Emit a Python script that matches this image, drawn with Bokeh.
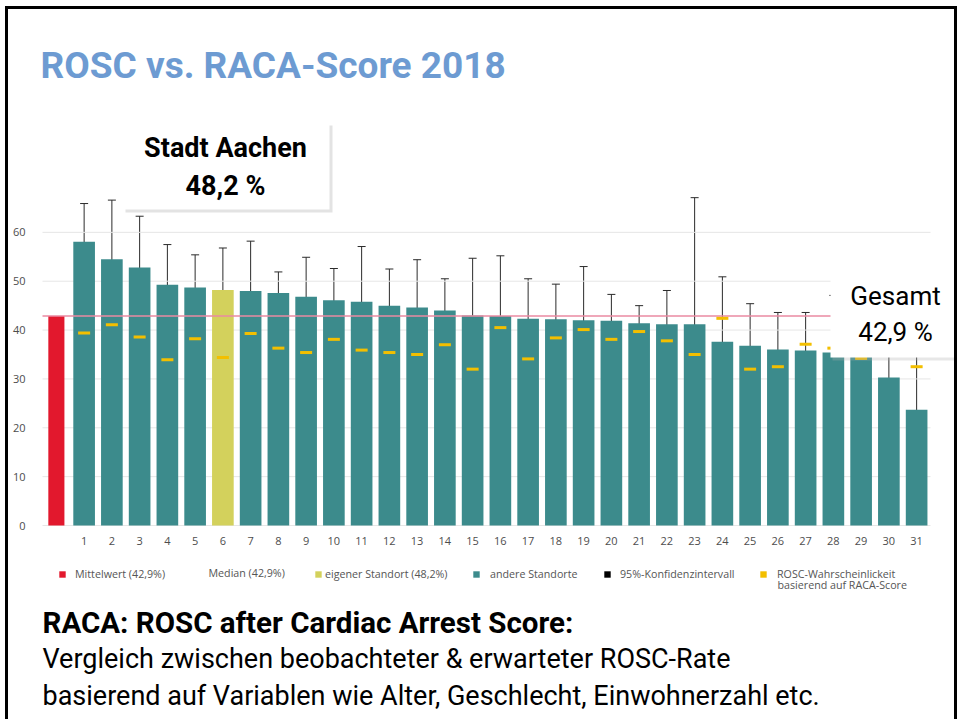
from bokeh.plotting import figure
from bokeh.models import (Range1d, FixedTicker, Whisker, ColumnDataSource, Label, TeeHead,
                          BoxAnnotation, Legend, LegendItem)
from bokeh.embed import file_html
from bokeh.resources import INLINE

# ---------------- data ----------------
sites = ["1", "2", "3", "4", "5", "6", "7", "8", "9", "10", "11", "12", "13", "14", "15", "16",
         "17", "18", "19", "20", "21", "22", "23", "24", "25", "26", "27", "28", "29", "30", "31"]
rosc = [58.1, 54.5, 52.8, 49.3, 48.7, 48.2, 48.0, 47.6, 46.8, 46.1, 45.8, 45.0, 44.6, 44.0, 43.0, 42.9,
        42.3, 42.2, 42.0, 41.9, 41.4, 41.2, 41.2, 37.6, 36.8, 36.0, 35.8, 35.4, 35.2, 30.3, 23.7]
ci_low = [50.1, 41.8, 42.1, 41.2, 42.1, 39.7, 38.1, 43.3, 38.6, 39.7, 34.9, 37.9, 35.0, 37.4, 31.8, 31.0,
          34.0, 35.2, 31.6, 36.7, 37.8, 34.6, 18.4, 25.6, 29.0, 29.0, 28.4, 25.0, 25.6, 20.8, 11.3]
ci_high = [65.9, 66.6, 63.3, 57.5, 55.4, 56.8, 58.2, 51.9, 54.9, 52.6, 57.1, 52.5, 54.4, 50.5, 54.7, 55.2,
           50.5, 49.4, 53.0, 47.3, 45.0, 48.1, 67.1, 50.9, 45.4, 43.6, 43.6, 47.1, 45.3, 40.5, 37.0]
expected = [39.4, 41.1, 38.6, 33.9, 38.2, 34.4, 39.3, 36.3, 35.4, 38.1, 35.9, 35.4, 35.0, 37.0, 32.0, 40.5,
            34.1, 38.4, 40.1, 38.1, 39.7, 37.8, 35.0, 42.4, 32.0, 32.5, 37.1, 36.3, 34.2, 36.0, 32.5]
mean_value = 42.9
median_value = 42.9
own_site = "6"
own_value = 48.2
y_ticks = [0, 10, 20, 30, 40, 50, 60]

# ---------------- styles / layout ----------------
TEAL = "#3c8b8c"
RED = "#e2182d"
OWN = "#d3d15c"
GOLD = "#f3bf00"
PINK = "#ea8aa2"
BLUE = "#6d9bd2"
NARROW = "Roboto"
SANS = "Open Sans"

W, H = 952, 713
OX, OY = 8, 9                   # page position of the canvas (inside the frame border)
PX0, PX_UNIT = 42.0, 27.75      # page x of the left edge of the bar area, px per category
PY0, PY_UNIT = 525.0, 342.0 / 70  # page y of value 0, px per percent


def dx(page_x):
    return -0.5 + (page_x - PX0) / PX_UNIT


def dy(page_y):
    return (PY0 - page_y) / PY_UNIT


def fmt(v):
    return ("%.1f" % v).replace(".", ",")


p = figure(width=W, height=H, output_backend="svg", toolbar_location=None,
           x_range=Range1d(dx(OX), dx(OX + W)), y_range=Range1d(dy(OY + H), dy(OY)),
           min_border=0)
p.styles = {"margin-left": "5px", "margin-top": "6px",
            "border-top": "3px solid black", "border-left": "3px solid black",
            "border-right": "3px solid black"}
p.title.visible = False
p.outline_line_color = None
p.background_fill_color = "white"
p.border_fill_color = "white"

xs = [i + 1 for i in range(len(sites))]
colors = [OWN if s == own_site else TEAL for s in sites]
src = ColumnDataSource(dict(x=xs, site=sites, top=rosc, lo=ci_low, hi=ci_high, exp=expected, color=colors))

# grid lines over the bar area only
p.segment(x0=-0.5, x1=31.5, y0=y_ticks, y1=y_ticks, line_color="#e6e6e6", line_width=1)

r_mean = p.vbar(x=[0], top=[mean_value], width=0.58, fill_color=RED, line_color=None)
r_bars = p.vbar(x="x", top="top", width=0.78, fill_color="color", line_color=None, source=src)

# median line
p.segment(x0=[-0.5], x1=[31.5], y0=[median_value], y1=[median_value], line_color=PINK, line_width=1.5)

# expected ROSC (RACA)
p.scatter(x="x", y="exp", marker="dash", size=12, line_color=GOLD, line_width=3, source=src)

# zero-width keys used only for legend swatches
r_ci_key = p.vbar(x="x", top="hi", bottom="lo", width=0, fill_color="black", line_color=None, source=src)
r_exp_key = p.vbar(x="x", top="exp", bottom="exp", width=0, fill_color=GOLD, line_color=None, source=src)

# confidence intervals
wh = Whisker(base="x", lower="lo", upper="hi", source=src, line_color="#2b2b2b", line_width=1,
             upper_head=TeeHead(size=8, line_color="#2b2b2b", line_width=1),
             lower_head=TeeHead(size=8, line_color="#2b2b2b", line_width=1))
p.add_layout(wh)

# axes drawn at fixed data locations
p.xaxis.fixed_location = 0
p.yaxis.fixed_location = -0.5
p.xaxis.ticker = FixedTicker(ticks=xs)
p.xaxis.major_label_overrides = {x: s for x, s in zip(xs, sites)}
p.yaxis.ticker = FixedTicker(ticks=y_ticks)
for ax in (p.xaxis, p.yaxis):
    ax.axis_line_color = None
    ax.major_tick_line_color = None
    ax.minor_tick_line_color = None
    ax.major_label_text_font = SANS
    ax.major_label_text_font_size = "11px"
    ax.major_label_text_color = "#4d4d4d"
p.xaxis.major_label_standoff = 5
p.yaxis.major_label_standoff = 11
p.xgrid.visible = False
p.ygrid.visible = False

MID = dict(text_baseline="middle")

# title
p.add_layout(Label(x=dx(40), y=dy(65), text="ROSC vs. RACA-Score 2018", text_font=NARROW,
                   text_font_style="bold", text_font_size="37px", text_color=BLUE,
                   text_align="left", **MID))

# callout boxes (shadow + white box) and their texts
p.add_layout(BoxAnnotation(left=dx(125), right=dx(332), top=dy(125), bottom=dy(212),
                           fill_color="#b0b0b0", fill_alpha=0.35, line_color=None))
p.add_layout(BoxAnnotation(left=dx(122), right=dx(329), top=dy(122), bottom=dy(209),
                           fill_color="white", fill_alpha=1, line_color=None))
p.add_layout(Label(x=dx(225), y=dy(147), text="Stadt Aachen", text_font=NARROW, text_font_style="bold",
                   text_font_size="27px", text_color="black", text_align="center", **MID))
p.add_layout(Label(x=dx(225), y=dy(185), text=fmt(own_value) + " %", text_font=NARROW, text_font_style="bold",
                   text_font_size="27px", text_color="black", text_align="center", **MID))

p.add_layout(BoxAnnotation(left=dx(832), right=dx(OX + W), top=dy(271), bottom=dy(360),
                           fill_color="#b0b0b0", fill_alpha=0.3, line_color=None))
p.add_layout(BoxAnnotation(left=dx(830), right=dx(OX + W), top=dy(269), bottom=dy(357),
                           fill_color="white", fill_alpha=1, line_color=None))
p.add_layout(Label(x=dx(895), y=dy(295), text="Gesamt", text_font=NARROW,
                   text_font_size="26px", text_color="black", text_align="center", **MID))
p.add_layout(Label(x=dx(895), y=dy(331), text=fmt(mean_value) + " %", text_font=NARROW,
                   text_font_size="26px", text_color="black", text_align="center", **MID))

# legend (one legend per entry to reproduce the spacing)
LEG_Y = 574
legend_entries = [
    (58, 9, "Mittelwert (" + fmt(mean_value) + "%)", r_mean, None),
    (314, 3, "eigener Standort (" + fmt(own_value) + "%)", r_bars, sites.index(own_site)),
    (472, 10, "andere Standorte", r_bars, 0),
    (603, 9, "95%-Konfidenzintervall", r_ci_key, None),
    (759, 10, "ROSC-Wahrscheinlickeit", r_exp_key, None),
]
for sq_x, standoff, txt, rend, idx in legend_entries:
    item = LegendItem(label=txt, renderers=[rend], index=idx)
    leg = Legend(items=[item], location=(sq_x - OX, (OY + H) - (LEG_Y + 6.5)),
                 glyph_width=8, glyph_height=8, label_height=8, label_standoff=standoff,
                 padding=0, margin=0, spacing=0, border_line_color=None, background_fill_alpha=0,
                 label_text_font=SANS, label_text_font_size="10.7px", label_text_color="#555555")
    p.add_layout(leg)

p.add_layout(Label(x=dx(208), y=dy(LEG_Y - 2), text="Median (" + fmt(median_value) + "%)", text_font=SANS,
                   text_font_size="10.7px", text_color="#555555", text_align="left", **MID))
p.add_layout(Label(x=dx(777), y=dy(LEG_Y + 10), text="basierend auf RACA-Score", text_font=SANS,
                   text_font_size="10.7px", text_color="#555555", text_align="left", **MID))

# bottom text
p.add_layout(Label(x=dx(42), y=dy(622), text="RACA: ROSC after Cardiac Arrest Score:", text_font=NARROW,
                   text_font_style="bold", text_font_size="29.5px", text_color="black",
                   text_align="left", **MID))
p.add_layout(Label(x=dx(42), y=dy(658), text="Vergleich zwischen beobachteter & erwarteter ROSC-Rate",
                   text_font=NARROW, text_font_size="27px", text_color="black",
                   text_align="left", **MID))
p.add_layout(Label(x=dx(42), y=dy(695), text="basierend auf Variablen wie Alter, Geschlecht, Einwohnerzahl etc.",
                   text_font=NARROW, text_font_size="27px", text_color="black",
                   text_align="left", **MID))

open("out.html", "w").write(file_html(p, INLINE))
